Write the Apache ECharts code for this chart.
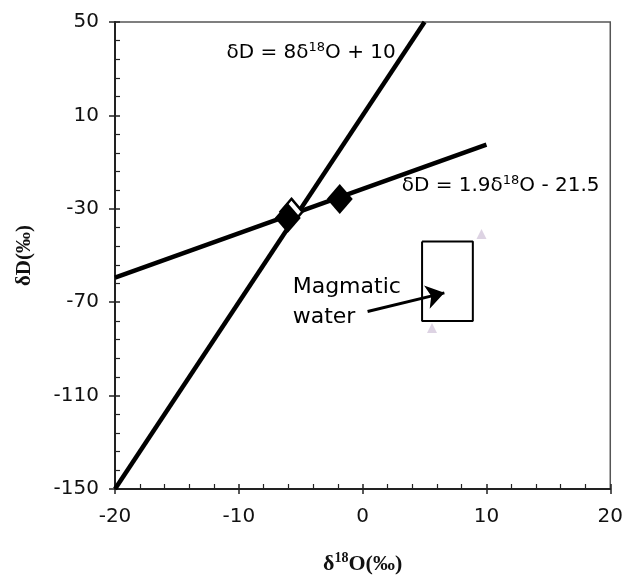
<!DOCTYPE html>
<html>
<head>
<meta charset="utf-8">
<script src="https://cdn.jsdelivr.net/npm/echarts@6/dist/echarts.min.js"></script>
<style>
html,body{margin:0;padding:0;background:#fff;}
#c{width:626px;height:580px;}
</style>
</head>
<body>
<div id="c"></div>
<script>
// Axis settings
var xMin = -20, xMax = 20, xStep = 10;
var yMin = -150, yMax = 50, yStep = 40;

// Meteoric water line: dD = 8 d18O + 10 (endpoints)
var mwlX = [-20, 5];
var mwlY = [-150, 50];

// Regression line: dD = 1.9 d18O - 21.5 (endpoints)
var regX = [-20, 10];
var regY = [-59.5, -2.5];

// Sample points (filled diamonds)
var sampleX = [-6.05, -1.85];
var sampleY = [-33.9, -25.8];

// Hidden open diamond
var openX = [-5.75];
var openY = [-31.3];

// Faint triangles
var triX = [9.6, 5.6];
var triY = [-40.8, -81];

// Magmatic water box corners
var boxX = [4.8, 8.9];
var boxY = [-44, -78];

// Arrow from label to box
var arrowX = [0.4, 6.6];
var arrowY = [-74, -66];

// Annotation anchor points
var labelX = [-11, 3.15, -5.65, -5.65];
var labelY = [36.7, -20.2, -63.5, -76.5];
var labelText = [
  '{a|δD = 8δ}{s|18}{a|O + 10}',
  '{a|δD = 1.9δ}{s|18}{a|O - 21.5}',
  '{m|Magmatic}',
  '{m|water}'
];

function zip(xs, ys){ return xs.map(function(v,i){return [v, ys[i]];}); }

var txtFont = 'DejaVu Sans';
var rich = {
  a: {fontFamily: txtFont, fontSize: 20, color: '#000', lineHeight: 24},
  m: {fontFamily: txtFont, fontSize: 22, color: '#000', lineHeight: 26},
  s: {fontFamily: txtFont, fontSize: 13, color: '#000', verticalAlign: 'top', lineHeight: 24, padding:[0,0,8,0]}
};

var boxData = [
  [boxX[0], boxY[0]], [boxX[1], boxY[0]], [boxX[1], boxY[1]], [boxX[0], boxY[1]], [boxX[0], boxY[0]]
];

var chart = echarts.init(document.getElementById('c'), null, {renderer: 'canvas'});
var option = {
  animation: false,
  backgroundColor: '#fff',
  grid: {left: 115, right: 13, top: 22, bottom: 90, show: true, borderColor: '#555', borderWidth: 1.5, backgroundColor: 'transparent'},
  xAxis: [{
    type: 'value', min: xMin, max: xMax, interval: xStep, position: 'bottom',
    axisLine: {show: true, onZero: false, lineStyle: {color: '#222', width: 2}},
    axisTick: {show: true, inside: false, length: 5, lineStyle: {color: '#222', width: 1.5}},
    axisLabel: {fontFamily: txtFont, fontSize: 20, color: '#111', margin: 18},
    splitLine: {show: false},
    name: '{b|δ}{bs|18}{b|O(‰)}', nameLocation: 'middle', nameGap: 62,
    nameTextStyle: {rich: {
      b: {fontFamily: 'Liberation Serif', fontWeight: 'bold', fontSize: 22, color: '#111', lineHeight: 26},
      bs: {fontFamily: 'Liberation Serif', fontWeight: 'bold', fontSize: 14, color: '#111', verticalAlign: 'top', lineHeight: 26, padding:[0,0,9,0]}
    }}
  }, {
    type: 'value', min: xMin, max: xMax, interval: xStep, position: 'bottom',
    axisLine: {show: false, onZero: false},
    axisTick: {show: true, inside: true, length: 5, lineStyle: {color: '#222', width: 1.5}},
    minorTick: {show: true, splitNumber: 5, length: 5, lineStyle: {color: '#222', width: 1.2}},
    axisLabel: {show: false},
    splitLine: {show: false}
  }],
  yAxis: [{
    type: 'value', min: yMin, max: yMax, interval: yStep, position: 'left',
    axisLine: {show: true, onZero: false, lineStyle: {color: '#222', width: 2}},
    axisTick: {show: true, inside: false, length: 6, lineStyle: {color: '#222', width: 1.5}},
    axisLabel: {fontFamily: txtFont, fontSize: 20, color: '#111', margin: 16},
    splitLine: {show: false},
    name: 'δD(‰)', nameLocation: 'middle', nameGap: 80, nameRotate: 90,
    nameTextStyle: {fontFamily: 'Liberation Serif', fontWeight: 'bold', fontSize: 21, color: '#111'}
  }, {
    type: 'value', min: yMin, max: yMax, interval: yStep, position: 'left',
    axisLine: {show: false, onZero: false},
    axisTick: {show: true, inside: true, length: 5, lineStyle: {color: '#222', width: 1.5}},
    minorTick: {show: true, splitNumber: 5, length: 5, lineStyle: {color: '#222', width: 1.2}},
    axisLabel: {show: false},
    splitLine: {show: false}
  }],
  series: [
    {type: 'line', data: zip(mwlX, mwlY), symbol: 'none', lineStyle: {color: '#000', width: 4.5}, z: 3},
    {type: 'line', data: zip(regX, regY), symbol: 'none', lineStyle: {color: '#000', width: 4.5}, z: 3},
    {type: 'scatter', data: zip(openX, openY), symbol: 'diamond', symbolSize: [22, 26],
      itemStyle: {color: '#fff', borderColor: '#000', borderWidth: 2.5, opacity: 1}, z: 4},
    {type: 'scatter', data: zip(sampleX, sampleY), symbol: 'diamond', symbolSize: [26, 30],
      itemStyle: {color: '#000', opacity: 1}, z: 5},
    {type: 'scatter', data: zip(triX, triY), symbol: 'triangle', symbolSize: 10,
      itemStyle: {color: '#ddd3e3', opacity: 1}, z: 2},
    {type: 'line', data: boxData, symbol: 'none', lineStyle: {color: '#000', width: 2}, z: 3},
    {type: 'lines', coordinateSystem: 'cartesian2d', polyline: false,
      symbol: ['none', 'arrow'], symbolSize: 18,
      lineStyle: {color: '#000', width: 3, opacity: 1},
      data: [{coords: [[arrowX[0], arrowY[0]], [arrowX[1], arrowY[1]]]}], z: 6},
    {type: 'scatter', symbolSize: 0, z: 7, itemStyle: {opacity: 1},
      data: labelText.map(function(t, i){ return {value: [labelX[i], labelY[i]], label: {formatter: t}}; }),
      label: {show: true, position: 'right', distance: 0, color: '#000', rich: rich}}
  ]
};
chart.setOption(option);
</script>
</body>
</html>
